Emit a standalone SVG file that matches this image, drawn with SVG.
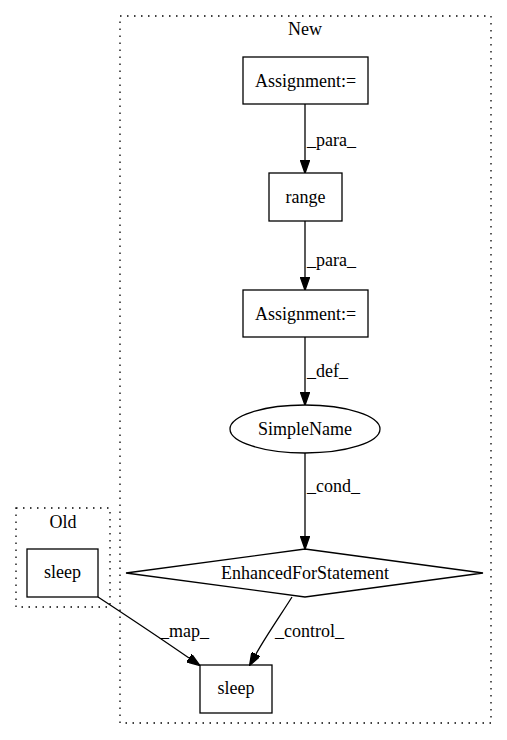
<svg xmlns="http://www.w3.org/2000/svg" width="507" height="740" viewBox="0 0 507 740">
<style>
text{font-family:"Liberation Serif","Times New Roman",serif;font-size:18px;fill:#000}
.c{text-anchor:middle}
.n{fill:none;stroke:#000;stroke-width:1.3}
.cl{fill:none;stroke:#000;stroke-width:1.3;stroke-dasharray:1.5,5.5}
.e{fill:none;stroke:#000;stroke-width:1.3}
</style>
<defs>
<marker id="ah" viewBox="0 0 10 7" markerWidth="13.3" markerHeight="9.3" refX="0" refY="3.5" orient="auto" markerUnits="userSpaceOnUse">
<path d="M0,0 L10,3.5 L0,7 z" fill="#000" stroke="#000"/>
</marker>
</defs>
<rect width="507" height="740" fill="#fff"/>
<g id="cluster_old">
<rect class="cl" x="16" y="508" width="94" height="99"/>
<text class="c" x="63" y="528">Old</text>
</g>
<g id="cluster_new">
<rect class="cl" x="120" y="16" width="371" height="707"/>
<text class="c" x="305" y="35">New</text>
</g>
<g id="edges">
<path class="e" d="M305,104 L305,160" marker-end="url(#ah)"/>
<text x="307" y="146">_para_</text>
<path class="e" d="M305,221 L305,277" marker-end="url(#ah)"/>
<text x="307" y="266">_para_</text>
<path class="e" d="M305,337 L305,392" marker-end="url(#ah)"/>
<text x="307" y="377">_def_</text>
<path class="e" d="M305,453 L305,536" marker-end="url(#ah)"/>
<text x="307" y="492">_cond_</text>
<path class="e" d="M98,597 C130,618 160,638 189,658" marker-end="url(#ah)"/>
<text x="160" y="637">_map_</text>
<path class="e" d="M292,597 C282,613 266,636 256,654" marker-end="url(#ah)"/>
<text x="275" y="637">_control_</text>
</g>
<g id="node_assign1">
<rect class="n" x="243" y="57" width="125" height="47"/>
<text class="c" x="305.5" y="87">Assignment:=</text>
</g>
<g id="node_range">
<rect class="n" x="269" y="173" width="73" height="48"/>
<text class="c" x="305.5" y="203">range</text>
</g>
<g id="node_assign2">
<rect class="n" x="243" y="290" width="125" height="47"/>
<text class="c" x="305.5" y="320">Assignment:=</text>
</g>
<g id="node_simplename">
<ellipse class="n" cx="305" cy="429" rx="75" ry="24"/>
<text class="c" x="305" y="435">SimpleName</text>
</g>
<g id="node_for">
<polygon class="n" points="305,549 483,573 305,597 126,573"/>
<text class="c" x="305" y="579">EnhancedForStatement</text>
</g>
<g id="node_sleep_new">
<rect class="n" x="200" y="665" width="72" height="48"/>
<text class="c" x="236" y="694">sleep</text>
</g>
<g id="node_sleep_old">
<rect class="n" x="27" y="549" width="71" height="48"/>
<text class="c" x="62.5" y="578">sleep</text>
</g>
</svg>
